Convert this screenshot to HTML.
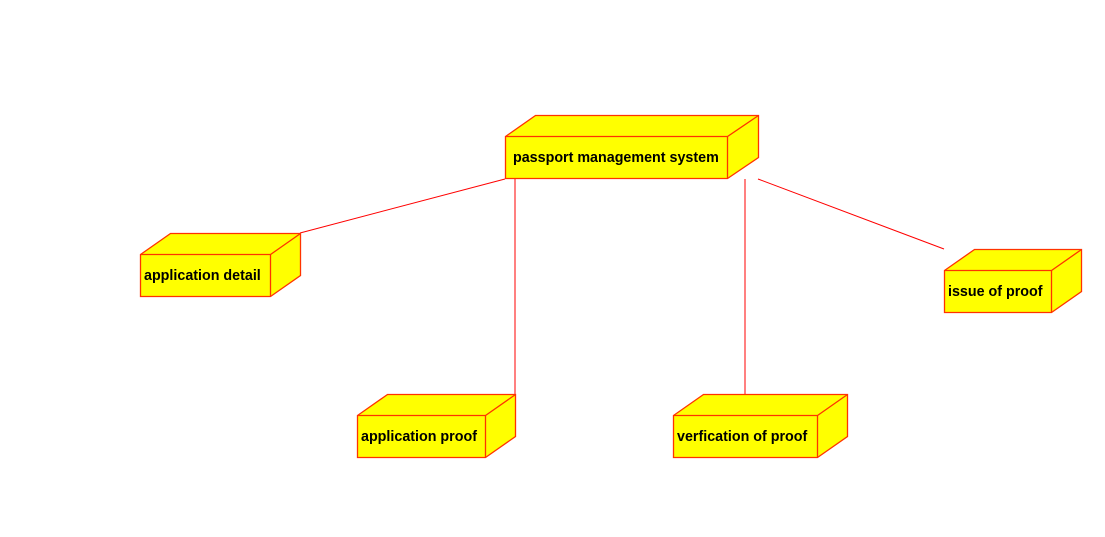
<!DOCTYPE html>
<html><head><style>body{margin:0;background:#fff}</style></head><body>
<svg width="1105" height="532" xmlns="http://www.w3.org/2000/svg" font-family="Liberation Sans, Arial, sans-serif" font-weight="bold" font-size="14.3">
<g stroke="#ff0000" stroke-width="1" fill="none">
<line x1="505" y1="179" x2="300" y2="233"/>
<line x1="515" y1="179" x2="515" y2="394"/>
<line x1="745" y1="179" x2="745" y2="394"/>
<line x1="758" y1="179" x2="944" y2="249"/>
</g>
<g fill="#ffff00" stroke="#ff3300" stroke-width="1.3">
<path d="M505.5 136.5 L535.5 115.5 L758.5 115.5 L758.5 157.5 L727.5 178.5 L505.5 178.5 Z"/>
<path fill="none" d="M505.5 136.5 L727.5 136.5 L758.5 115.5 M727.5 136.5 L727.5 178.5"/>
<path d="M140.5 254.5 L170.5 233.5 L300.5 233.5 L300.5 275.5 L270.5 296.5 L140.5 296.5 Z"/>
<path fill="none" d="M140.5 254.5 L270.5 254.5 L300.5 233.5 M270.5 254.5 L270.5 296.5"/>
<path d="M944.5 270.5 L974.5 249.5 L1081.5 249.5 L1081.5 291.5 L1051.5 312.5 L944.5 312.5 Z"/>
<path fill="none" d="M944.5 270.5 L1051.5 270.5 L1081.5 249.5 M1051.5 270.5 L1051.5 312.5"/>
<path d="M357.5 415.5 L387.5 394.5 L515.5 394.5 L515.5 436.5 L485.5 457.5 L357.5 457.5 Z"/>
<path fill="none" d="M357.5 415.5 L485.5 415.5 L515.5 394.5 M485.5 415.5 L485.5 457.5"/>
<path d="M673.5 415.5 L703.5 394.5 L847.5 394.5 L847.5 436.5 L817.5 457.5 L673.5 457.5 Z"/>
<path fill="none" d="M673.5 415.5 L817.5 415.5 L847.5 394.5 M817.5 415.5 L817.5 457.5"/>
</g>
<g fill="#000">
<text x="513" y="162">passport management system</text>
<text x="144" y="280">application detail</text>
<text x="948" y="296">issue of proof</text>
<text x="361" y="441">application proof</text>
<text x="677" y="441">verfication of proof</text>
</g>
</svg>
</body></html>
